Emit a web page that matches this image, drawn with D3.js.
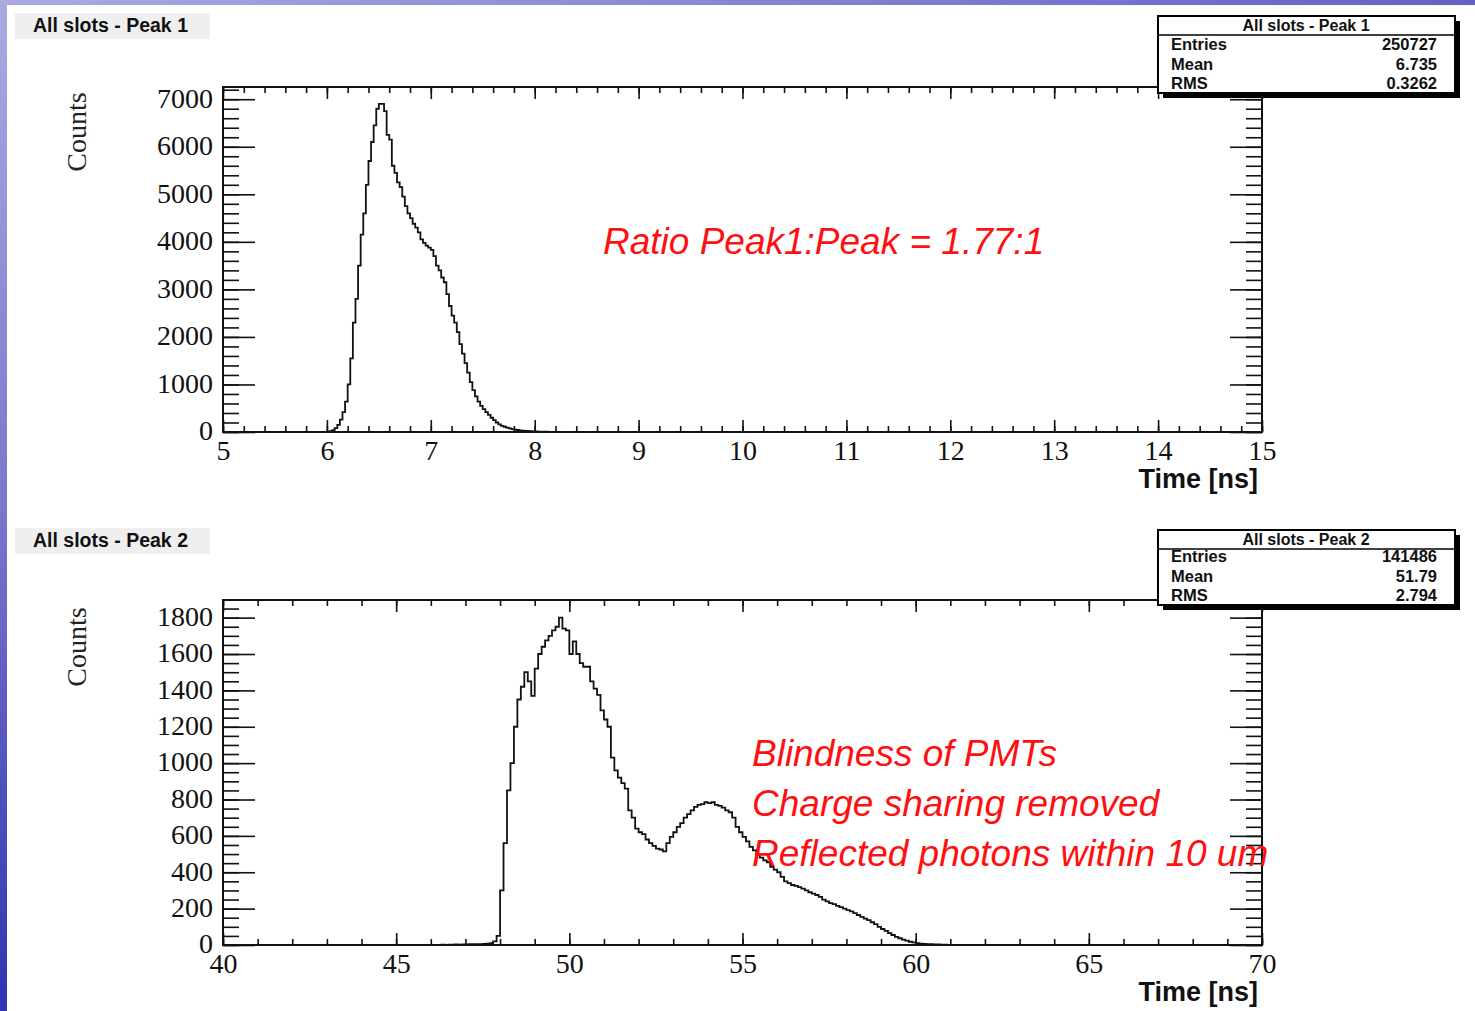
<!DOCTYPE html>
<html>
<head>
<meta charset="utf-8">
<script src="https://cdn.jsdelivr.net/npm/d3@7"></script>
<style>
  html, body { margin: 0; padding: 0; background: #fff; }
  svg { display: block; }
</style>
</head>
<body>
<svg id="chart" width="1475" height="1011"></svg>
<script>
// Two ROOT-style timing histograms (Peak 1 / Peak 2)

// Peak 1: bins of 0.025 ns starting at 6.0 ns
const peak1Start = 6.0;
const peak1Width = 0.025;
const peak1Counts = [
  10, 20, 40, 80, 150, 260, 420, 640, 1000, 1550,
  2300, 2800, 3500, 4150, 4600, 5200, 5700, 6100, 6450, 6800,
  6900, 6900, 6750, 6250, 6150, 5600, 5450, 5250, 5150, 4950,
  4750, 4600, 4500, 4380, 4300, 4200, 4050, 3980, 3920, 3880,
  3830, 3700, 3500, 3400, 3250, 3150, 2900, 2650, 2450, 2300,
  2100, 1850, 1650, 1450, 1250, 1050, 880, 750, 640, 550,
  480, 420, 360, 300, 250, 200, 160, 130, 110, 90,
  75, 60, 50, 42, 35, 30, 25, 21, 18, 15,
  12, 10, 8, 6, 5, 3, 2, 1, 0
];

// Peak 2: bins of 0.1 ns starting at 46.0 ns
const peak2Start = 46.0;
const peak2Width = 0.1;
const peak2Counts = [
  1, 1, 1, 2, 1, 2, 2, 3, 2, 3,
  3, 4, 4, 5, 5, 6, 8, 10, 20, 50,
  300, 560, 850, 1000, 1200, 1350, 1420, 1500, 1450, 1370,
  1520, 1600, 1640, 1675, 1700, 1730, 1750, 1800, 1740, 1730,
  1600, 1670, 1600, 1550, 1530, 1530, 1450, 1410, 1375, 1290,
  1240, 1200, 1030, 960, 920, 890, 860, 740, 700, 640,
  620, 610, 580, 560, 545, 530, 525, 515, 560, 595,
  620, 650, 670, 700, 720, 740, 760, 770, 775, 785,
  780, 785, 770, 765, 755, 740, 730, 700, 650, 620,
  595, 570, 540, 520, 500, 480, 465, 455, 430, 415,
  400, 375, 350, 340, 330, 325, 318, 310, 300, 290,
  282, 275, 265, 250, 240, 230, 225, 215, 208, 200,
  192, 185, 175, 165, 155, 145, 137, 125, 115, 100,
  88, 78, 65, 55, 45, 37, 30, 24, 18, 14,
  10, 8, 6, 5, 4, 3, 3, 2, 2, 1,
  0
];

const statLabels = ["Entries", "Mean", "RMS"];
const peak1Stats = ["250727", "6.735", "0.3262"];
const peak2Stats = ["141486", "51.79", "2.794"];

const annot1 = ["Ratio Peak1:Peak = 1.77:1"];
const annot2 = ["Blindness of PMTs", "Charge sharing removed", "Reflected photons within 10 um"];

const svg = d3.select("#chart");
const W = 1475, H = 1011;
const SERIF = "Liberation Serif, Times New Roman, serif";
const SANS = "Liberation Sans, Arial, sans-serif";

// slide background edges
const defs = svg.append("defs");
const gl = defs.append("linearGradient").attr("id", "leftEdge")
  .attr("x1", 0).attr("y1", 0).attr("x2", 0).attr("y2", 1);
gl.append("stop").attr("offset", "0%").attr("stop-color", "#aaaae2");
gl.append("stop").attr("offset", "50%").attr("stop-color", "#7878cc");
gl.append("stop").attr("offset", "100%").attr("stop-color", "#3232b2");
const gt = defs.append("linearGradient").attr("id", "topEdge")
  .attr("x1", 0).attr("y1", 0).attr("x2", 1).attr("y2", 0);
gt.append("stop").attr("offset", "0%").attr("stop-color", "#aaaae2");
gt.append("stop").attr("offset", "100%").attr("stop-color", "#6660c6");

svg.append("rect").attr("width", W).attr("height", H).attr("fill", "#fff");
svg.append("rect").attr("x", 0).attr("y", 0).attr("width", W).attr("height", 5).attr("fill", "url(#topEdge)");
svg.append("rect").attr("x", 0).attr("y", 0).attr("width", 7).attr("height", H).attr("fill", "url(#leftEdge)");

function drawPanel(cfg) {
  const x = d3.scaleLinear().domain(cfg.xDomain).range([223, 1262]);
  const y = d3.scaleLinear().domain(cfg.yDomain).range([cfg.bottom, cfg.top]);
  const g = svg.append("g");

  // title box
  g.append("rect")
    .attr("x", 15).attr("y", cfg.titleY).attr("width", 195).attr("height", 26)
    .attr("fill", "#efefef");
  g.append("text")
    .attr("x", 33).attr("y", cfg.titleY + 19)
    .attr("font-family", SANS)
    .attr("font-weight", "bold").attr("font-size", 19.5)
    .attr("fill", "#111")
    .text(cfg.title);

  // axes (ticks only, pointing inward)
  const styleAxis = (sel) => {
    sel.attr("font-family", SERIF).attr("font-size", 28);
    sel.select(".domain").remove();
    sel.selectAll("line").attr("stroke", "#111").attr("stroke-width", 1.6);
    sel.selectAll("text").attr("fill", "#111");
  };
  const xMinor = d3.range(cfg.xDomain[0], cfg.xDomain[1] + 1e-9, cfg.xMinorStep);
  const xMajor = d3.range(cfg.xDomain[0], cfg.xDomain[1] + 1e-9, cfg.xMajorStep);
  const yMinor = d3.range(0, cfg.yDomain[1], cfg.yMinorStep);
  const yMajor = d3.range(0, cfg.yDomain[1], cfg.yMajorStep);

  g.append("g").attr("transform", `translate(0,${cfg.bottom})`)
    .call(d3.axisBottom(x).tickValues(xMinor).tickSize(-6).tickFormat(""))
    .call(styleAxis);
  g.append("g").attr("transform", `translate(0,${cfg.bottom})`)
    .call(d3.axisBottom(x).tickValues(xMajor).tickSize(-12).tickPadding(8).tickFormat(d3.format("d")))
    .call(styleAxis);
  g.append("g").attr("transform", `translate(0,${cfg.top})`)
    .call(d3.axisTop(x).tickValues(xMinor).tickSize(-6).tickFormat(""))
    .call(styleAxis);
  g.append("g").attr("transform", `translate(0,${cfg.top})`)
    .call(d3.axisTop(x).tickValues(xMajor).tickSize(-12).tickFormat(""))
    .call(styleAxis);

  g.append("g").attr("transform", "translate(223,0)")
    .call(d3.axisLeft(y).tickValues(yMinor).tickSize(-16).tickFormat(""))
    .call(styleAxis);
  g.append("g").attr("transform", "translate(223,0)")
    .call(d3.axisLeft(y).tickValues(yMajor).tickSize(-32).tickPadding(10).tickFormat(d3.format("d")))
    .call(styleAxis)
    .call((a) => a.selectAll("text").attr("dy", "0.28em"));
  g.append("g").attr("transform", "translate(1262,0)")
    .call(d3.axisRight(y).tickValues(yMinor).tickSize(-16).tickFormat(""))
    .call(styleAxis);
  g.append("g").attr("transform", "translate(1262,0)")
    .call(d3.axisRight(y).tickValues(yMajor).tickSize(-32).tickFormat(""))
    .call(styleAxis);

  // histogram outline
  const pts = [[cfg.xDomain[0], 0]];
  cfg.counts.forEach((c, i) => pts.push([cfg.binStart + i * cfg.binWidth, c]));
  pts.push([cfg.binStart + cfg.counts.length * cfg.binWidth, 0]);
  pts.push([cfg.xDomain[1], 0]);
  const line = d3.line()
    .x((d) => x(d[0]))
    .y((d) => y(d[1]))
    .curve(d3.curveStepAfter);
  g.append("path")
    .datum(pts)
    .attr("d", line)
    .attr("fill", "none")
    .attr("stroke", "#111")
    .attr("stroke-width", 1.8);

  // frame
  g.append("rect")
    .attr("x", x.range()[0]).attr("y", cfg.top)
    .attr("width", x.range()[1] - x.range()[0])
    .attr("height", cfg.bottom - cfg.top)
    .attr("fill", "none").attr("stroke", "#111").attr("stroke-width", 2);

  // axis titles
  g.append("text")
    .attr("transform", `translate(86,${cfg.yTitleY}) rotate(-90)`)
    .attr("text-anchor", "middle")
    .attr("font-family", SERIF)
    .attr("font-size", 28).attr("fill", "#222")
    .text("Counts");
  g.append("text")
    .attr("x", 1258).attr("y", cfg.bottom + 56)
    .attr("text-anchor", "end")
    .attr("font-family", SANS)
    .attr("font-weight", "bold").attr("font-size", 27).attr("fill", "#111")
    .text("Time [ns]");

  // red annotations
  g.selectAll(".annot")
    .data(cfg.annot)
    .join("text")
    .attr("class", "annot")
    .attr("x", cfg.annotX)
    .attr("y", (d, i) => cfg.annotY + i * 50)
    .attr("font-family", SANS)
    .attr("font-style", "italic").attr("font-size", 37)
    .attr("fill", "#ff1010")
    .text((d) => d);

  // stats box
  const sb = g.append("g").attr("transform", `translate(1158,${cfg.statY})`);
  sb.append("rect").attr("x", 5).attr("y", 5).attr("width", 297).attr("height", cfg.statH).attr("fill", "#000");
  sb.append("rect").attr("x", 0).attr("y", 0).attr("width", 297).attr("height", cfg.statH)
    .attr("fill", "#fff").attr("stroke", "#000").attr("stroke-width", 2);
  sb.append("line").attr("x1", 0).attr("x2", 297).attr("y1", 19).attr("y2", 19)
    .attr("stroke", "#000").attr("stroke-width", 1.5);
  sb.append("text").attr("x", 148).attr("y", 15).attr("text-anchor", "middle")
    .attr("font-family", SANS).attr("font-weight", "bold").attr("font-size", 16)
    .attr("fill", "#111").text(cfg.title);
  statLabels.forEach((lab, i) => {
    const yy = cfg.statRows[i];
    sb.append("text").attr("x", 13).attr("y", yy)
      .attr("font-family", SANS).attr("font-weight", "bold").attr("font-size", 16.5)
      .attr("fill", "#111").text(lab);
    sb.append("text").attr("x", 279).attr("y", yy).attr("text-anchor", "end")
      .attr("font-family", SANS).attr("font-weight", "bold").attr("font-size", 16.5)
      .attr("fill", "#111").text(cfg.stats[i]);
  });
}

drawPanel({
  title: "All slots - Peak 1",
  titleY: 13,
  xDomain: [5, 15], xMajorStep: 1, xMinorStep: 0.2,
  yDomain: [0, 7257], yMajorStep: 1000, yMinorStep: 200,
  top: 87, bottom: 432,
  binStart: peak1Start, binWidth: peak1Width, counts: peak1Counts,
  yTitleY: 132,
  annot: annot1, annotX: 603, annotY: 254,
  statY: 16, statH: 77, statRows: [34, 54, 73],
  stats: peak1Stats
});

drawPanel({
  title: "All slots - Peak 2",
  titleY: 528,
  xDomain: [40, 70], xMajorStep: 5, xMinorStep: 1,
  yDomain: [0, 1897], yMajorStep: 200, yMinorStep: 50,
  top: 600, bottom: 945,
  binStart: peak2Start, binWidth: peak2Width, counts: peak2Counts,
  yTitleY: 647,
  annot: annot2, annotX: 752, annotY: 766,
  statY: 530, statH: 75, statRows: [32, 52, 71],
  stats: peak2Stats
});
</script>
</body>
</html>
